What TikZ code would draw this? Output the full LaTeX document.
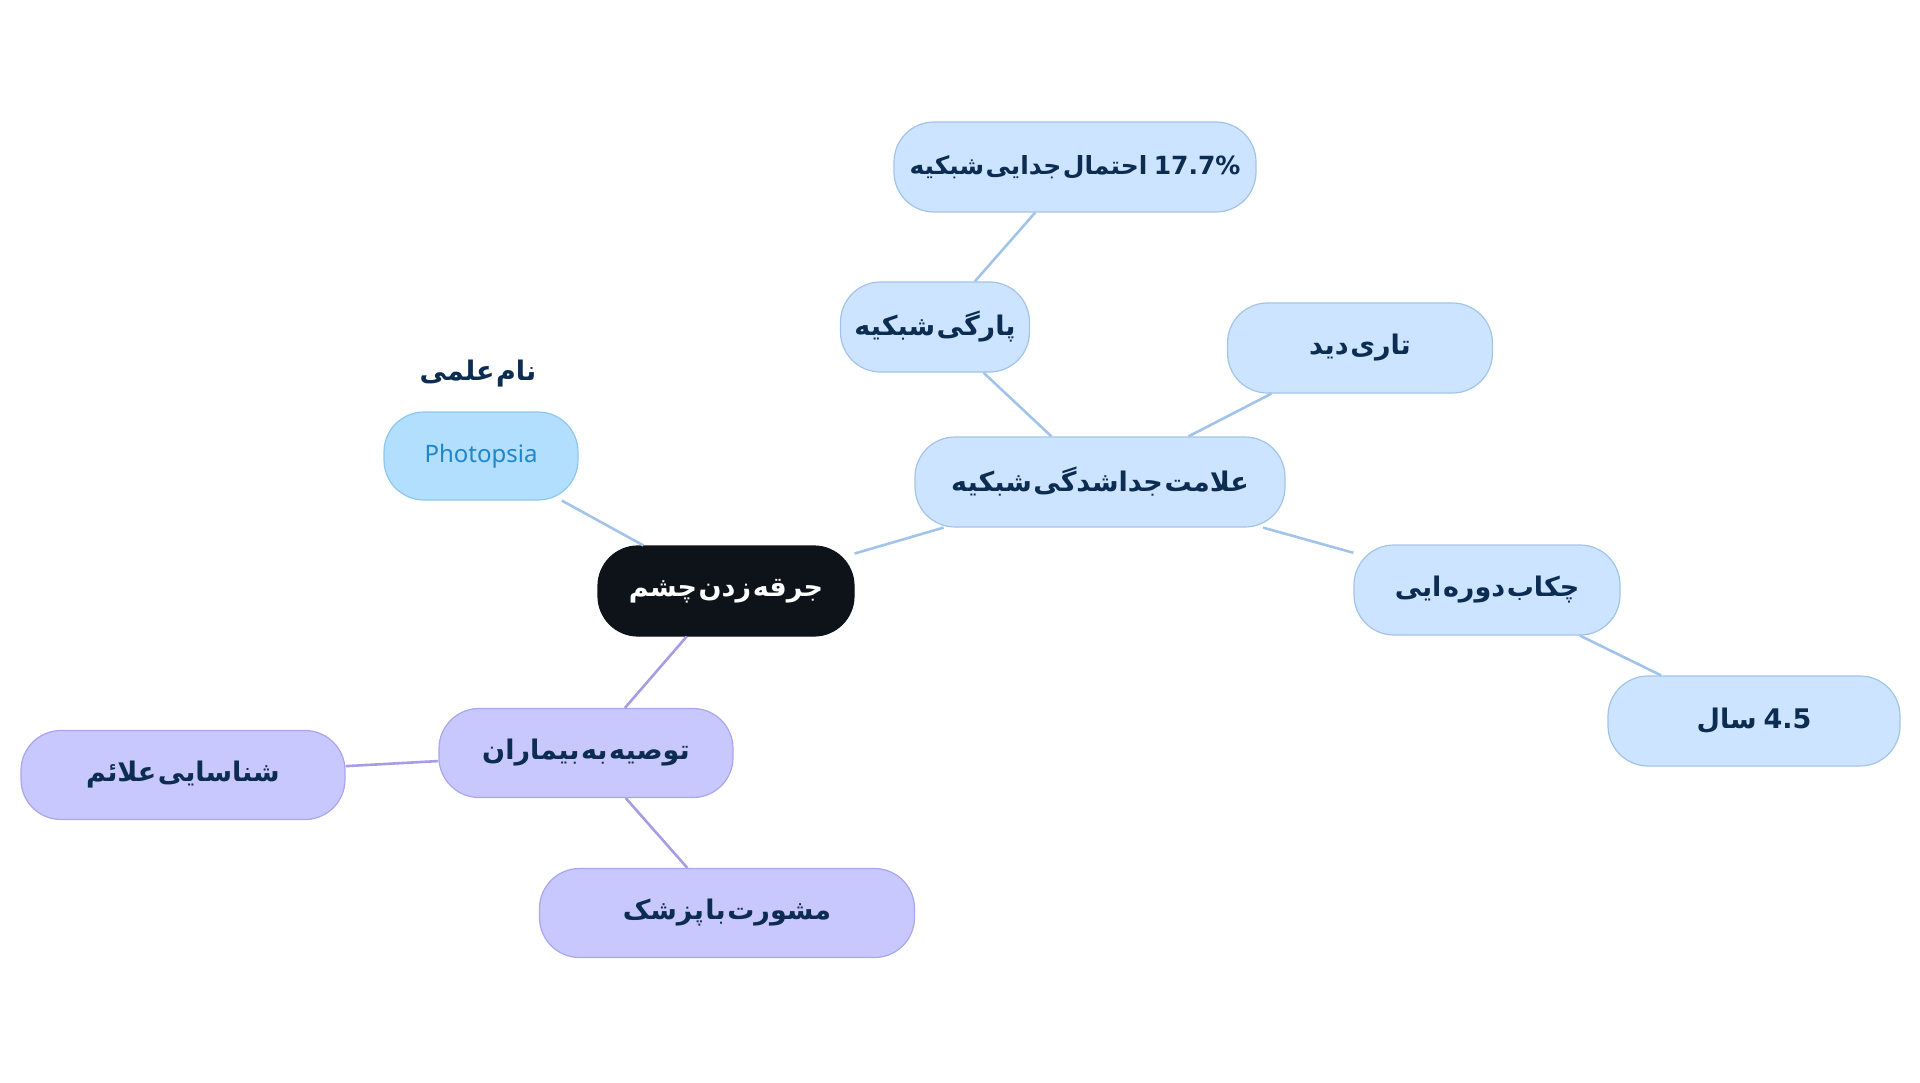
\documentclass[tikz,border=0pt]{standalone}
\usepackage{fontspec}
\usepackage{tikz}
\TeXXeTstate=1
\newfontfamily\fafont[Script=Arabic]{DejaVu Sans}
\newfontfamily\latfont{Noto Sans}
\definecolor{bluefill}{HTML}{CCE4FF}
\definecolor{blueline}{HTML}{A2C4EA}
\definecolor{skyfill}{HTML}{B3DFFF}
\definecolor{skyline}{HTML}{8FC6F0}
\definecolor{skytext}{HTML}{1E86CC}
\definecolor{lavfill}{HTML}{C8C8FF}
\definecolor{lavline}{HTML}{A9A6EE}
\definecolor{purpleline}{HTML}{A89CE4}
\definecolor{navy}{HTML}{0C2C52}
\definecolor{rootfill}{HTML}{0E1319}
\newcommand{\fa}[1]{\fafont\bfseries\spaceskip=0.06em\beginR #1\endR}

\begin{document}
\begin{tikzpicture}[x=1pt,y=-1pt,
	bubble/.style={shape=rectangle,rounded corners=40pt,minimum height=90pt,line width=1.2pt,
		font=\fontsize{27}{30}\selectfont,text=navy,inner sep=0pt},
	bluebox/.style={bubble,draw=blueline,fill=bluefill},
	lavbox/.style={bubble,draw=lavline,fill=lavfill},
	rootbox/.style={bubble,draw=rootfill,fill=rootfill,text=white},
	skybox/.style={bubble,draw=skyline,fill=skyfill,text=skytext,font=\latfont\fontsize{24}{28}\selectfont},
	blink/.style={draw=blueline,line width=2.6pt},
	plink/.style={draw=purpleline,line width=2.6pt}]
	\useasboundingbox (0,0) rectangle (1920,1083);

	\node[rootbox,minimum width=256pt] (root) at (726,591)     {\fa{جرقه زدن چشم}};
	\node[skybox,minimum width=194pt,minimum height=88pt] (photo) at (481,456)     {Photopsia};
	\node[text=navy,font=\fontsize{27}{30}\selectfont] (sci) at (478,374)     {\fa{نام علمی}};
	\node[bluebox,minimum width=370pt] (sign) at (1100,482)     {\fa{علامت جداشدگی شبکیه}};
	\node[bluebox,minimum width=189pt] (tear) at (935,327)     {\fa{پارگی شبکیه}};
	\node[bluebox,minimum width=362pt,font=\fontsize{25}{30}\selectfont] (risk) at (1075,167)     {\fa{\beginL17.7\%\endL\hspace{0.25em}احتمال جدایی شبکیه}};
	\node[bluebox,minimum width=265pt] (blur) at (1360,348)     {\fa{تاری دید}};
	\node[bluebox,minimum width=266pt] (check) at (1487,590)     {\fa{چکاب دوره ایی}};
	\node[bluebox,minimum width=292pt] (years) at (1754,721)     {\fa{\beginL4.5\endL\hspace{0.25em}سال}};
	\node[lavbox,minimum width=294pt,minimum height=89pt] (advice) at (586,753)     {\fa{توصیه به بیماران}};
	\node[lavbox,minimum width=324pt,minimum height=89pt] (symp) at (183,775)     {\fa{شناسایی علائم}};
	\node[lavbox,minimum width=375pt,minimum height=89pt] (doctor) at (727,913)     {\fa{مشورت با پزشک}};

	\path[blink] (root) edge (photo);
	\path[blink] (root) edge (sign);
	\path[blink] (sign) edge (tear);
	\path[blink] (tear) edge (risk);
	\path[blink] (sign) edge (blur);
	\path[blink] (sign) edge (check);
	\path[blink] (check) edge (years);
	\path[plink] (root) edge (advice);
	\path[plink] (advice) edge (symp);
	\path[plink] (advice) edge (doctor);
\end{tikzpicture}
\end{document}
